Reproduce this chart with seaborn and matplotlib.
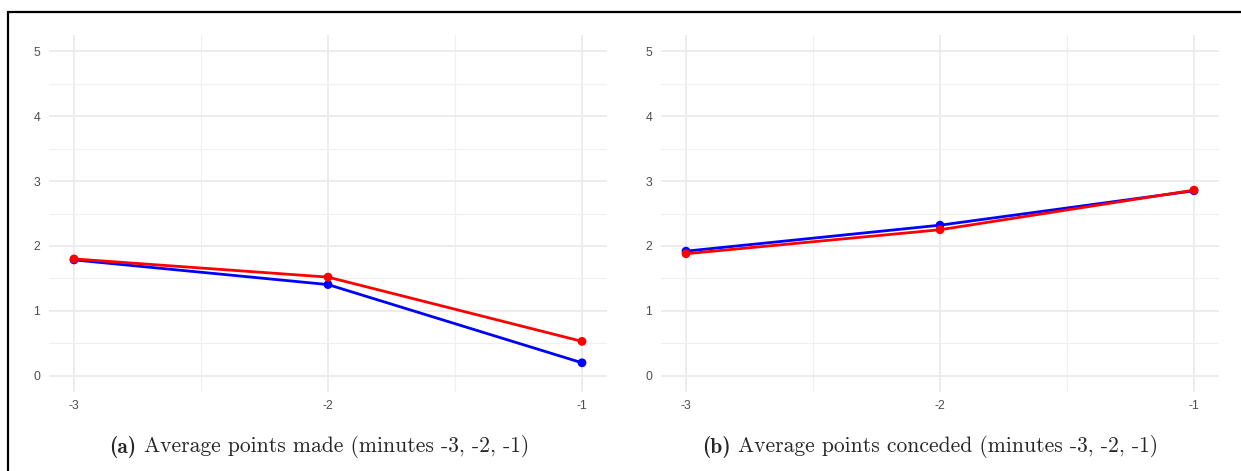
import matplotlib
matplotlib.use("Agg")
import matplotlib.pyplot as plt
from matplotlib.lines import Line2D
from matplotlib.ticker import MultipleLocator
import seaborn as sns
import pandas as pd

minutes = [-3, -2, -1]
made_blue = [1.785, 1.405, 0.20]
made_red = [1.80, 1.52, 0.53]
conceded_blue = [1.92, 2.32, 2.85]
conceded_red = [1.88, 2.25, 2.86]
x_ticks = [-3, -2, -1]
y_ticks = [0, 1, 2, 3, 4, 5]
captions = [("(a)", "Average points made (minutes -3, -2, -1)"),
            ("(b)", "Average points conceded (minutes -3, -2, -1)")]

sns.set_theme(style="white")
plt.rcParams["font.family"] = ["Liberation Sans", "DejaVu Sans"]

W, H = 1241, 471
fig = plt.figure(figsize=(W / 100, H / 100), dpi=100)

def make_df(blue, red):
    return pd.DataFrame({
        "minute": minutes * 2,
        "value": list(blue) + list(red),
        "series": ["blue"] * 3 + ["red"] * 3,
    })

panels = [(make_df(made_blue, made_red), 48.6), (make_df(conceded_blue, conceded_red), 660.6)]
pal = {"blue": "#0000FF", "red": "#FF0000"}

for i, (df, left_px) in enumerate(panels):
    ax = fig.add_axes([left_px / W, 1 - 392 / H, 558.8 / W, 357 / H])
    sns.lineplot(data=df, x="minute", y="value", hue="series", palette=pal,
                 linewidth=2.0, legend=False, ax=ax, zorder=3)
    sns.scatterplot(data=df, x="minute", y="value", hue="series", palette=pal,
                    s=40, linewidth=0, legend=False, ax=ax, zorder=4)
    ax.set_xlim(-3.1, -0.9)
    ax.set_ylim(-0.25, 5.25)
    ax.set_xticks(x_ticks)
    ax.set_xticklabels([str(t) for t in x_ticks])
    ax.set_yticks(y_ticks)
    ax.xaxis.set_minor_locator(MultipleLocator(0.5))
    ax.yaxis.set_minor_locator(MultipleLocator(0.5))
    ax.grid(True, which="major", color="#EBEBEB", linewidth=1.3)
    ax.grid(True, which="minor", color="#F0F0F0", linewidth=0.9)
    ax.set_axisbelow(True)
    for s in ax.spines.values():
        s.set_visible(False)
    ax.tick_params(which="both", length=0, labelsize=8.8, colors="#4D4D4D", pad=6)
    ax.set_xlabel("")
    ax.set_ylabel("")
    ax.set_facecolor("white")

    # caption
    cx = (319 if i == 0 else 930) / W
    bold, rest = captions[i]
    t1 = fig.text(0, 1 - 447 / H, bold, fontfamily="cmb10", fontsize=15.5,
                  va="center", ha="left")
    t2 = fig.text(0, 1 - 447 / H, rest, fontfamily="cmr10", fontsize=15.5,
                  va="center", ha="left")
    fig.canvas.draw()
    r = fig.canvas.get_renderer()
    w1 = t1.get_window_extent(r).width
    w2 = t2.get_window_extent(r).width
    gap = 8
    total = w1 + w2 + gap
    x0 = cx * W - total / 2
    t1.set_x(x0 / W)
    t2.set_x((x0 + w1 + gap) / W)

# figure border (top and left)
fig.add_artist(Line2D([8 / W, 8 / W], [0, 1 - 12 / H], color="black", linewidth=1.6,
                      transform=fig.transFigure))
fig.add_artist(Line2D([8 / W, 1], [1 - 12 / H, 1 - 12 / H], color="black", linewidth=1.6,
                      transform=fig.transFigure))

fig.savefig("out.png", dpi=100, facecolor="white")
